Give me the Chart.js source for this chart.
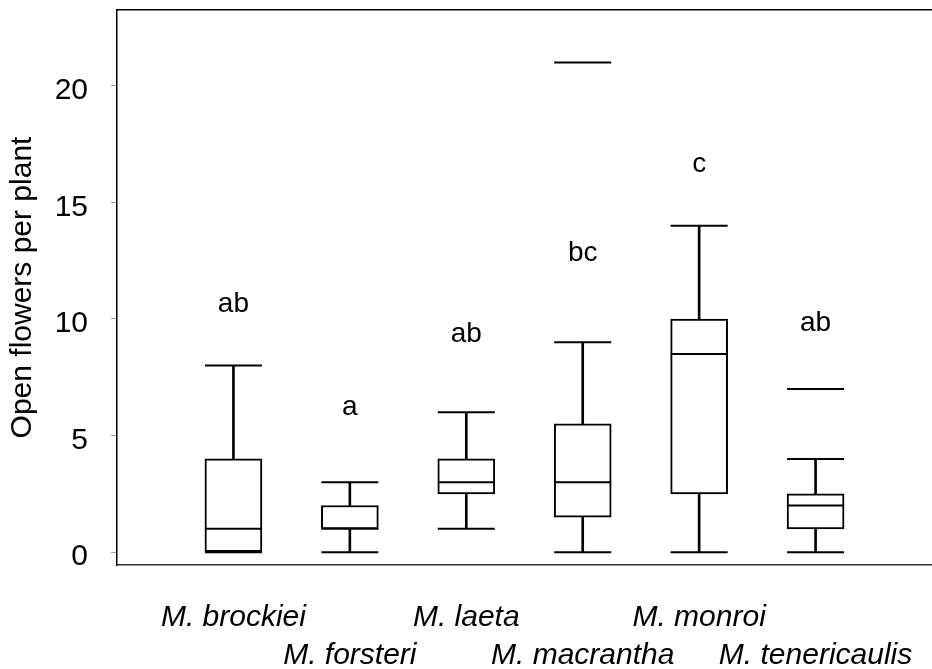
<!DOCTYPE html>
<html>
<head>
<meta charset="utf-8">
<title>Open flowers per plant</title>
<script src="https://cdn.jsdelivr.net/npm/chart.js@4.4.1/dist/chart.umd.min.js"></script>
<style>
  html, body { margin: 0; padding: 0; background: #fff; }
  #wrap { width: 932px; height: 669px; }
</style>
</head>
<body>
<div id="wrap"><canvas id="flowers" width="932" height="669"></canvas></div>
<script>
// Box plot summaries, one entry per species
const species = ['M. brockiei', 'M. forsteri', 'M. laeta', 'M. macrantha', 'M. monroi', 'M. tenericaulis'];
const whiskerLow = [0, 0, 1, 0, 0, 0];
const quartile1 = [0, 1, 2.5, 1.5, 2.5, 1];
const median = [1, 1, 3, 3, 8.5, 2];
const quartile3 = [4, 2, 4, 5.5, 10, 2.5];
const whiskerHigh = [8, 3, 6, 9, 14, 4];
// outliers: species index + value
const outlierGroup = [3, 5];
const outlierValue = [21, 7];
// significance groups and the height they sit at
const letters = ['ab', 'a', 'ab', 'bc', 'c', 'ab'];
const letterLevel = [10.3, 5.9, 9.0, 12.5, 16.3, 9.5];
const yTickValues = [0, 5, 10, 15, 20];

const FONT = "'Liberation Sans', Arial, Helvetica, sans-serif";
const BOX_W = 57;

const slot = (i) => i + 1;

const boxData = species.map((s, i) => ({ x: slot(i), y: [quartile1[i], quartile3[i]] }));
const upperWhisker = species.map((s, i) => ({ x: slot(i), y: [quartile3[i], whiskerHigh[i]] }));
const lowerWhisker = species.map((s, i) => ({ x: slot(i), y: [whiskerLow[i], quartile1[i]] }));
const capData = species.flatMap((s, i) => [
    { x: slot(i), y: whiskerHigh[i] },
    { x: slot(i), y: whiskerLow[i] },
]);
const medianData = species.map((s, i) => ({ x: slot(i), y: median[i] }));
const outlierData = outlierGroup.map((g, k) => ({ x: slot(g), y: outlierValue[k] }));

const whiskerStyle = {
    type: 'bar',
    grouped: false,
    barThickness: 2,
    backgroundColor: '#000',
    borderWidth: 0,
    order: 3,
};

const dashStyle = {
    type: 'line',
    showLine: false,
    pointStyle: 'line',
    pointRadius: BOX_W / 2,
    pointHoverRadius: BOX_W / 2,
    pointBorderWidth: 2,
    pointBorderColor: '#000',
    pointBackgroundColor: '#000',
    order: 1,
};

// scales keep their fixed size, no extra room for overhanging labels
function noOverhang(scale) {
    scale.paddingLeft = 0;
    scale.paddingRight = 0;
    scale.paddingTop = 0;
    scale.paddingBottom = 0;
}

// group letters written above each box
const letterPlugin = {
    id: 'groupLetters',
    afterDatasetsDraw(chart) {
        const { ctx, scales: { x, y } } = chart;
        ctx.save();
        ctx.fillStyle = '#000';
        ctx.font = '28px ' + FONT;
        ctx.textAlign = 'center';
        ctx.textBaseline = 'alphabetic';
        letters.forEach((t, i) => {
            ctx.fillText(t, x.getPixelForValue(slot(i)), y.getPixelForValue(letterLevel[i]));
        });
        ctx.restore();
    },
};

new Chart(document.getElementById('flowers'), {
    type: 'bar',
    data: {
        datasets: [
            { ...whiskerStyle, data: upperWhisker },
            { ...whiskerStyle, data: lowerWhisker },
            {
                type: 'bar',
                data: boxData,
                grouped: false,
                barThickness: BOX_W,
                backgroundColor: '#fff',
                borderColor: '#000',
                borderWidth: 2,
                borderSkipped: false,
                order: 2,
            },
            { ...dashStyle, data: capData },
            { ...dashStyle, data: medianData },
            { ...dashStyle, data: outlierData },
        ],
    },
    options: {
        responsive: false,
        animation: false,
        events: [],
        layout: { padding: 0, autoPadding: false },
        plugins: {
            legend: { display: false },
            tooltip: { enabled: false },
        },
        scales: {
            x: {
                type: 'linear',
                min: 0,
                max: 7,
                offset: false,
                grid: { display: false },
                border: { display: true, color: '#333', width: 1.5 },
                afterBuildTicks(scale) {
                    scale.ticks = species.map((s, i) => ({ value: slot(i) }));
                },
                afterFit(scale) {
                    scale.height = 104;
                    noOverhang(scale);
                },
                ticks: {
                    autoSkip: false,
                    maxRotation: 0,
                    minRotation: 0,
                    padding: 26,
                    color: '#000',
                    font: { family: FONT, size: 30, style: 'italic', lineHeight: 1.27 },
                    callback(value, index) {
                        const name = species[index];
                        return index % 2 === 0 ? name : ['', name];
                    },
                },
            },
            xTop: {
                type: 'linear',
                position: 'top',
                min: 0,
                max: 7,
                grid: { display: false, drawTicks: false },
                ticks: { display: false },
                border: { display: true, color: '#000', width: 1.5 },
                afterFit(scale) {
                    scale.height = 10;
                    noOverhang(scale);
                },
            },
            y: {
                min: -0.55,
                max: 23.25,
                grid: {
                    display: true,
                    drawOnChartArea: false,
                    drawTicks: true,
                    tickLength: 6,
                    color: '#999',
                },
                border: { display: true, color: '#000', width: 1.5 },
                afterBuildTicks(scale) {
                    scale.ticks = yTickValues.map((v) => ({ value: v }));
                },
                afterFit(scale) {
                    scale.width = 117;
                    noOverhang(scale);
                },
                ticks: {
                    padding: 23,
                    labelOffset: 5,
                    color: '#000',
                    font: { family: FONT, size: 30 },
                },
                title: {
                    display: true,
                    text: 'Open flowers per plant',
                    color: '#000',
                    font: { family: FONT, size: 30 },
                    padding: { top: 5, bottom: 0 },
                },
            },
        },
    },
    plugins: [letterPlugin],
});
</script>
</body>
</html>
